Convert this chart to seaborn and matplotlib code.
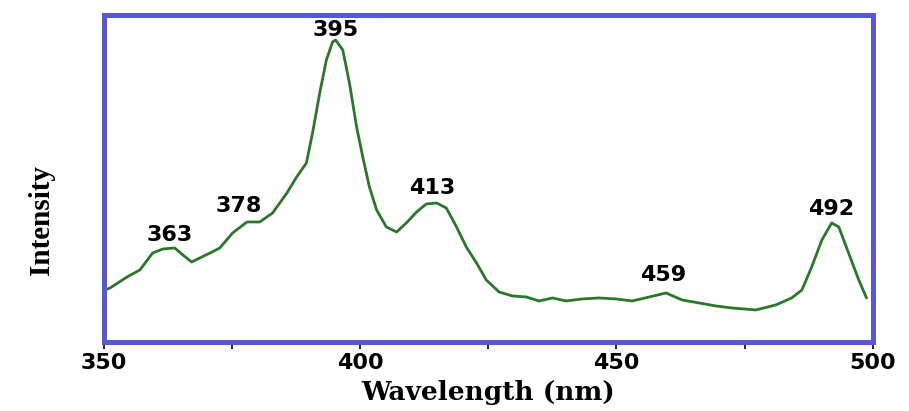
import matplotlib
matplotlib.use("Agg")
import matplotlib.pyplot as plt
import seaborn as sns
import pandas as pd

wavelength = [350.2, 351.2, 354.5, 357.0, 359.5, 361.5, 363.8, 365.4, 367.1, 368.7,
              370.7, 372.6, 375.1, 377.9, 380.4, 382.9, 385.7, 387.6, 389.5, 390.7,
              392.1, 393.4, 394.6, 395.2, 396.6, 397.9, 399.3, 400.5, 401.8, 403.2,
              405.1, 407.1, 409.0, 411.0, 412.9, 414.9, 416.8, 418.8, 420.7, 422.7,
              424.6, 427.1, 429.7, 432.4, 434.9, 437.5, 440.2, 443.3, 446.6, 449.9,
              453.1, 456.4, 459.7, 462.8, 466.1, 469.4, 472.5, 477.2, 481.1, 484.2,
              486.2, 488.1, 490.1, 492.0, 493.4, 495.3, 497.3, 498.8]
intensity = [52, 54, 65, 72, 89, 93, 94, 87, 80, 84,
             89, 94, 109, 120, 120, 129, 149, 165, 179, 209,
             249, 282, 300, 302, 292, 259, 215, 185, 155, 132,
             115, 110, 119, 130, 138, 139, 134, 115, 95, 79,
             62, 50, 46, 45, 41, 44, 41, 43, 44, 43,
             41, 45, 49, 42, 39, 36, 34, 32, 37, 44,
             52, 75, 102, 119, 115, 89, 62, 44]

peak_labels = ["363", "378", "395", "413", "459", "492"]
peak_x = [362.9, 376.3, 395.2, 414.1, 459.2, 491.9]
peak_y = [107, 136, 312, 154, 67, 133]

x_ticks = [350, 400, 450, 500]
x_minor = [375, 425, 475]

df = pd.DataFrame({"Wavelength (nm)": wavelength, "Intensity": intensity})

sns.set_style("white")
plt.rcParams["text.color"] = "black"
plt.rcParams["xtick.color"] = "black"
plt.rcParams["axes.labelcolor"] = "black"

fig = plt.figure(figsize=(9.09, 4.11), dpi=100)
ax = fig.add_axes([0.1144, 0.168, 0.8456, 0.7955])

sns.lineplot(data=df, x="Wavelength (nm)", y="Intensity", ax=ax,
             color="#2a772a", linewidth=2.0, estimator=None)

ax.set_xlim(350, 500)
ax.set_ylim(0, 327)
ax.set_yticks([])
ax.set_xticks(x_ticks)
ax.set_xticks(x_minor, minor=True)
ax.set_xticklabels([str(t) for t in x_ticks], fontsize=16, fontweight="bold",
                   family="DejaVu Sans", color="black")
ax.tick_params(axis="x", which="both", direction="out", length=5, width=1.2,
               color="black", pad=3, bottom=True)

for s in ax.spines.values():
    s.set_color("#5858d2")
    s.set_linewidth(3.6)

for lab, px, py in zip(peak_labels, peak_x, peak_y):
    ax.text(px, py, lab, ha="center", va="center", fontsize=16,
            fontweight="bold", family="DejaVu Sans", color="black")

ax.set_xlabel("Wavelength (nm)", fontsize=19, fontweight="bold",
              family="DejaVu Serif", color="black")
ax.xaxis.set_label_coords(0.5, -0.115)
ax.set_ylabel("Intensity", fontsize=21, fontweight="bold",
              family="Liberation Serif", color="black")
ax.yaxis.set_label_coords(-0.064, 0.373)

fig.savefig("out.png", dpi=100)
